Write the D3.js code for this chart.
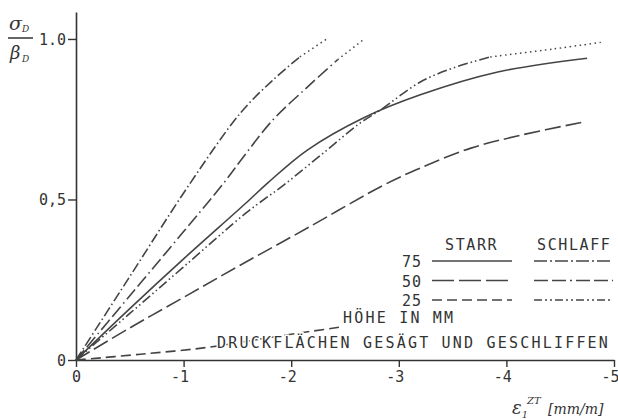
<!DOCTYPE html>
<html>
<head>
<meta charset="utf-8">
<script src="https://cdn.jsdelivr.net/npm/d3@7"></script>
<style>
  body { margin: 0; background: #fff; }
  text { fill: #333; }
</style>
</head>
<body>
<svg id="main"></svg>
<script>
const width = 618;
const height = 419;

// x: strain eps1 [mm/m], y: sigma_D / beta_D
const xTicks = [0, -1, -2, -3, -4, -5];
const yTicks = [0, 0.5, 1.0];
const yTickLabels = ['0', '0,5', '1.0'];

const heights = ['75', '50', '25'];

const starr75X = [0, -0.5, -1.0, -1.58, -1.78, -2.15, -2.67, -3.2, -3.92, -4.75];
const starr75Y = [0, 0.16, 0.315, 0.489, 0.551, 0.654, 0.754, 0.826, 0.897, 0.94];
const starr50X = [0, -0.5, -1.0, -1.53, -2.15, -2.86, -3.2, -3.67, -4.13, -4.71];
const starr50Y = [0, 0.1, 0.195, 0.296, 0.411, 0.545, 0.598, 0.66, 0.70, 0.741];
const starr25X = [0, -0.6, -1.24, -1.83, -2.47];
const starr25Y = [0, 0.018, 0.04, 0.072, 0.103];

const schlaff75X = [0, -0.5, -1.05, -1.53, -1.83, -2.08, -2.33];
const schlaff75Y = [0, 0.26, 0.545, 0.77, 0.872, 0.944, 1.0];
const schlaff50X = [0, -0.5, -1.0, -1.37, -1.55, -1.83, -2.15, -2.43, -2.68];
const schlaff50Y = [0, 0.2, 0.4, 0.55, 0.63, 0.748, 0.85, 0.935, 1.0];
const schlaff25X = [0, -0.5, -1.0, -1.58, -1.93, -2.3, -2.64, -2.83, -3.2, -3.51, -3.85, -4.44, -4.89];
const schlaff25Y = [0, 0.145, 0.29, 0.458, 0.545, 0.645, 0.738, 0.779, 0.866, 0.91, 0.944, 0.969, 0.99];

// strain from which each curve is continued as a dotted line (null = none)
const dottedFrom = {starr75: null, starr50: null, starr25: null,
  schlaff75: -2.08, schlaff50: -2.43, schlaff25: -3.85};

const zip = (xs, ys) => xs.map((x, i) => ({x: x, y: ys[i]}));

const series = [
  {key: 'starr75', pts: zip(starr75X, starr75Y), dash: null},
  {key: 'starr50', pts: zip(starr50X, starr50Y), dash: '16,5'},
  {key: 'starr25', pts: zip(starr25X, starr25Y), dash: '10,5'},
  {key: 'schlaff75', pts: zip(schlaff75X, schlaff75Y), dash: '10,3,1.5,3'},
  {key: 'schlaff50', pts: zip(schlaff50X, schlaff50Y), dash: '13,4,13,4,1.5,4'},
  {key: 'schlaff25', pts: zip(schlaff25X, schlaff25Y), dash: '10,3,1.5,3,1.5,3'}
];

const ink = '#444';
const mono = '"DejaVu Sans Mono", monospace';

const svg = d3.select('#main').attr('width', width).attr('height', height);

const xScale = d3.scaleLinear().domain([0, -5]).range([76, 614]);
const yScale = d3.scaleLinear().domain([0, 1.084]).range([360, 12]);

// axes
const xAxis = d3.axisBottom(xScale).tickValues(xTicks).tickSize(7).tickSizeOuter(0)
  .tickFormat(d => d === 0 ? '0' : '-' + Math.abs(d));
const yAxis = d3.axisLeft(yScale).tickValues(yTicks).tickSize(8).tickSizeOuter(0)
  .tickFormat((d, i) => yTickLabels[i]);

const gx = svg.append('g').attr('transform', `translate(0,${yScale(0)})`).call(xAxis);
const gy = svg.append('g').attr('transform', `translate(${xScale(0)},0)`).call(yAxis);

[gx, gy].forEach(g => {
  g.select('.domain').attr('stroke', '#333').attr('stroke-width', 1.6);
  g.selectAll('.tick line').attr('stroke', '#333').attr('stroke-width', 1.4);
  g.selectAll('.tick text').attr('font-family', mono).attr('font-size', 15).attr('fill', '#333');
});
gx.selectAll('.tick text').attr('y', 11).attr('text-anchor', 'end')
  .attr('dx', d => d === 0 ? 4.5 : 5);
gy.selectAll('.tick text').attr('x', -10).attr('dy', '0.36em');

// curves
const line = d3.line().x(d => xScale(d.x)).y(d => yScale(d.y)).curve(d3.curveCatmullRom.alpha(0.5));

series.forEach(s => {
  const cut = dottedFrom[s.key];
  const main = cut === null ? s.pts : s.pts.filter(p => p.x >= cut);
  svg.append('path')
    .attr('d', line(main))
    .attr('fill', 'none')
    .attr('stroke', ink)
    .attr('stroke-width', 1.6)
    .attr('stroke-dasharray', s.dash);
  if (cut !== null) {
    svg.append('path')
      .attr('d', line(s.pts.filter(p => p.x <= cut)))
      .attr('fill', 'none')
      .attr('stroke', ink)
      .attr('stroke-width', 1.5)
      .attr('stroke-dasharray', '1.5,3.5');
  }
});

// legend
const legend = svg.append('g').attr('font-family', mono).attr('font-size', 15);
legend.append('text').attr('x', 445).attr('y', 250).attr('letter-spacing', 1.6).text('STARR');
legend.append('text').attr('x', 537).attr('y', 250).attr('letter-spacing', 1.6).text('SCHLAFF');

const rowY = d3.scalePoint().domain(heights).range([261, 300]);
const starrDash = {'75': null, '50': '22,5', '25': '10,5'};
const schlaffDash = {'75': '13,3,2,3', '50': '14,4,14,4,2,4', '25': '8,3,2,3,2,3'};

heights.forEach(h => {
  legend.append('text').attr('x', 422).attr('y', rowY(h) + 6)
    .attr('text-anchor', 'end').attr('letter-spacing', 1).text(h);
  legend.append('line').attr('x1', 432).attr('x2', 512).attr('y1', rowY(h)).attr('y2', rowY(h))
    .attr('stroke', ink).attr('stroke-width', 1.6).attr('stroke-dasharray', starrDash[h]);
  legend.append('line').attr('x1', 534).attr('x2', 613).attr('y1', rowY(h)).attr('y2', rowY(h))
    .attr('stroke', ink).attr('stroke-width', 1.6).attr('stroke-dasharray', schlaffDash[h]);
});

legend.append('text').attr('x', 343).attr('y', 323).attr('letter-spacing', 2.2).text('HÖHE IN MM');
legend.append('text').attr('x', 217).attr('y', 348).attr('letter-spacing', 2.2)
  .attr('stroke', '#fff').attr('stroke-width', 3).attr('paint-order', 'stroke')
  .text('DRUCKFLÄCHEN GESÄGT UND GESCHLIFFEN');

// axis titles
const yt = svg.append('g').attr('font-family', '"DejaVu Serif", serif').attr('font-style', 'italic');
yt.append('text').attr('x', 9).attr('y', 30).attr('font-size', 19).text('σ');
yt.append('text').attr('x', 22).attr('y', 32).attr('font-size', 9).text('D');
yt.append('line').attr('x1', 8).attr('x2', 33).attr('y1', 38).attr('y2', 38)
  .attr('stroke', '#333').attr('stroke-width', 1.5);
yt.append('text').attr('x', 10).attr('y', 59).attr('font-size', 18).text('β');
yt.append('text').attr('x', 22).attr('y', 62).attr('font-size', 9).text('D');

const xt = svg.append('g').attr('font-family', '"DejaVu Serif", serif').attr('font-style', 'italic');
xt.append('text').attr('x', 512).attr('y', 414).attr('font-size', 18).text('ε');
xt.append('text').attr('x', 522).attr('y', 418).attr('font-size', 9).text('1');
xt.append('text').attr('x', 527).attr('y', 404).attr('font-size', 10).text('ZT');
xt.append('text').attr('x', 548).attr('y', 414).attr('font-size', 14).text('[mm/m]');
</script>
</body>
</html>
